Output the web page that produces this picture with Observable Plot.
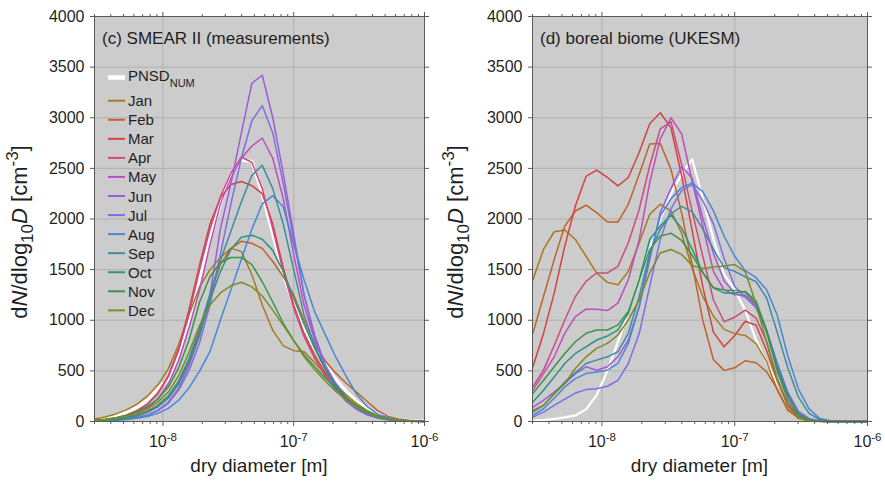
<!DOCTYPE html>
<html><head><meta charset="utf-8">
<script src="https://cdn.jsdelivr.net/npm/d3@7"></script>
<script src="https://cdn.jsdelivr.net/npm/@observablehq/plot@0.6"></script>
<style>
body{margin:0;background:#fff;}
#wrap{display:flex;width:885px;height:481px;}
svg{overflow:visible;}
</style></head><body><div id="wrap"></div>
<script>
const diameters = [3.02e-9, 3.63e-9, 4.37e-9, 5.25e-9, 6.31e-9, 7.59e-9, 9.12e-9, 1.10e-8, 1.32e-8, 1.58e-8, 1.91e-8, 2.29e-8, 2.75e-8, 3.31e-8, 3.98e-8, 4.79e-8, 5.75e-8, 6.92e-8, 8.32e-8, 1.00e-7, 1.20e-7, 1.45e-7, 1.74e-7, 2.09e-7, 2.51e-7, 3.02e-7, 3.63e-7, 4.37e-7, 5.25e-7, 6.31e-7, 7.59e-7, 9.12e-7, 1.00e-6];
const months = ["Jan","Feb","Mar","Apr","May","Jun","Jul","Aug","Sep","Oct","Nov","Dec"];
const monthColors = ["#a67a1e","#c2612a","#d2433f","#cf4a7c","#bf4dbf","#a05ad9","#7b6fe2","#4a86d6","#3e8ba2","#2a9480","#3a9448","#7b8c25"];

const smearPNSD = [15, 30, 55, 90, 140, 210, 320, 420, 680, 1000, 1420, 1800, 2150, 2430, 2580, 2570, 2250, 1850, 1450, 1150, 920, 720, 560, 420, 300, 200, 125, 75, 40, 20, 10, 4, 3];
const smearMonthly = [
  [25, 45, 75, 115, 170, 250, 360, 520, 760, 1050, 1330, 1500, 1620, 1710, 1680, 1450, 1150, 900, 750, 700, 690, 580, 470, 360, 265, 180, 110, 60, 30, 14, 6, 3, 2],
  [8, 15, 26, 42, 68, 105, 160, 250, 390, 600, 900, 1250, 1550, 1710, 1780, 1760, 1710, 1580, 1430, 1250, 1000, 760, 600, 480, 380, 290, 200, 110, 50, 25, 12, 5, 3],
  [12, 20, 36, 62, 105, 170, 280, 450, 720, 1100, 1550, 1950, 2210, 2340, 2370, 2330, 2250, 1950, 1520, 1150, 870, 650, 480, 340, 230, 150, 90, 50, 26, 12, 5, 2, 1],
  [12, 20, 35, 60, 100, 165, 270, 440, 700, 1050, 1500, 1900, 2220, 2450, 2610, 2560, 2300, 1900, 1480, 1120, 840, 620, 450, 320, 215, 140, 85, 48, 25, 12, 5, 2, 1],
  [9, 16, 28, 48, 80, 130, 220, 370, 600, 920, 1300, 1750, 2150, 2400, 2600, 2720, 2800, 2600, 2200, 1650, 1150, 800, 560, 380, 240, 145, 85, 45, 22, 10, 4, 2, 1],
  [5, 8, 15, 25, 40, 65, 110, 190, 330, 550, 850, 1250, 1900, 2350, 2850, 3340, 3420, 3000, 2450, 1850, 1250, 820, 520, 320, 200, 120, 66, 35, 17, 8, 3, 1, 1],
  [4, 7, 13, 22, 38, 62, 105, 180, 310, 500, 780, 1150, 1650, 2150, 2600, 2970, 3120, 2850, 2350, 1800, 1250, 850, 560, 360, 220, 130, 72, 38, 18, 8, 3, 1, 1],
  [4, 7, 12, 20, 32, 50, 80, 130, 210, 330, 500, 690, 1000, 1300, 1600, 1900, 2150, 2230, 2120, 1750, 1400, 1080, 860, 640, 450, 270, 150, 75, 38, 18, 8, 3, 2],
  [7, 12, 20, 35, 58, 95, 155, 250, 400, 620, 920, 1260, 1590, 1880, 2170, 2430, 2530, 2300, 1950, 1500, 1050, 740, 520, 350, 230, 140, 80, 42, 20, 9, 4, 2, 1],
  [6, 11, 20, 33, 55, 90, 145, 230, 370, 580, 860, 1200, 1480, 1700, 1820, 1840, 1800, 1690, 1480, 1220, 960, 720, 520, 360, 240, 150, 88, 48, 24, 11, 5, 2, 1],
  [12, 22, 38, 60, 95, 145, 220, 340, 530, 800, 1180, 1430, 1570, 1620, 1620, 1550, 1380, 1180, 970, 800, 660, 540, 430, 330, 240, 160, 100, 56, 30, 14, 6, 3, 1],
  [10, 18, 32, 52, 82, 125, 190, 290, 450, 680, 950, 1150, 1270, 1340, 1375, 1330, 1240, 1100, 950, 800, 640, 510, 400, 300, 215, 145, 90, 50, 26, 12, 5, 2, 1]
];

const ukesmPNSD = [8, 15, 25, 40, 60, 120, 260, 500, 790, 1080, 1400, 1700, 2000, 2250, 2440, 2590, 2200, 1800, 1450, 1300, 1100, 800, 580, 380, 200, 80, 25, 5, 1, 0, 0, 0, 0];
const ukesmMonthly = [
  [1400, 1699, 1874, 1891, 1798, 1632, 1467, 1374, 1351, 1483, 1765, 2046, 2145, 2080, 1860, 1510, 1235, 1040, 910, 868, 850, 770, 590, 310, 120, 30, 8, 2, 0, 0, 0, 0, 0],
  [870, 1235, 1600, 1930, 2079, 2136, 2063, 1970, 1970, 2145, 2443, 2741, 2745, 2490, 2060, 1550, 1000, 610, 505, 530, 600, 580, 490, 320, 110, 40, 10, 2, 0, 0, 0, 0, 0],
  [540, 870, 1268, 1732, 2129, 2420, 2483, 2410, 2328, 2410, 2659, 2940, 3049, 2900, 2430, 1880, 1330, 880, 738, 850, 990, 950, 700, 400, 165, 50, 12, 2, 0, 0, 0, 0, 0],
  [341, 507, 750, 1003, 1235, 1384, 1467, 1467, 1533, 1765, 2096, 2526, 2891, 2960, 2540, 2070, 1632, 1200, 985, 1030, 1100, 1020, 790, 420, 180, 50, 12, 2, 0, 0, 0, 0, 0],
  [308, 473, 639, 870, 1036, 1109, 1109, 1096, 1169, 1400, 1798, 2360, 2791, 3000, 2840, 2370, 1930, 1480, 1300, 1252, 1250, 1140, 900, 560, 260, 80, 20, 4, 0, 0, 0, 0, 0],
  [142, 209, 290, 374, 473, 540, 507, 540, 639, 805, 1136, 1599, 2063, 2300, 2520, 2400, 2010, 1660, 1390, 1268, 1230, 1150, 890, 540, 250, 80, 20, 4, 0, 0, 0, 0, 0],
  [43, 93, 159, 220, 281, 315, 324, 348, 407, 573, 871, 1334, 1798, 2100, 2280, 2340, 2180, 1950, 1610, 1334, 1230, 1120, 900, 580, 290, 100, 30, 8, 2, 0, 0, 0, 0],
  [60, 126, 230, 341, 424, 473, 490, 507, 573, 771, 1136, 1632, 2030, 2200, 2310, 2355, 2270, 2080, 1830, 1632, 1490, 1420, 1300, 1050, 650, 320, 125, 30, 8, 2, 0, 0, 0],
  [93, 159, 275, 391, 480, 573, 606, 639, 689, 871, 1235, 1665, 1897, 2050, 2125, 2070, 1900, 1700, 1520, 1483, 1430, 1380, 1220, 880, 530, 240, 80, 20, 4, 0, 0, 0, 0],
  [192, 308, 440, 573, 672, 738, 805, 844, 904, 1069, 1400, 1798, 1930, 2040, 1910, 1700, 1470, 1320, 1270, 1268, 1285, 1190, 900, 540, 270, 80, 18, 3, 0, 0, 0, 0, 0],
  [275, 407, 540, 672, 788, 871, 904, 904, 954, 1086, 1400, 1699, 1831, 1860, 1790, 1640, 1470, 1320, 1300, 1295, 1280, 1160, 880, 500, 215, 60, 12, 2, 0, 0, 0, 0, 0],
  [109, 159, 275, 374, 523, 639, 722, 771, 854, 1003, 1202, 1467, 1665, 1699, 1650, 1540, 1510, 1525, 1535, 1550, 1480, 1160, 780, 420, 150, 35, 8, 1, 0, 0, 0, 0, 0]
];

const majorTicks = [1e-8, 1e-7, 1e-6];
const majorTickLabels = ["10^-8", "10^-7", "10^-6"];
const minorTicks = [3e-9, 4e-9, 5e-9, 6e-9, 7e-9, 8e-9, 9e-9, 2e-8, 3e-8, 4e-8, 5e-8, 6e-8, 7e-8, 8e-8, 9e-8, 2e-7, 3e-7, 4e-7, 5e-7, 6e-7, 7e-7, 8e-7, 9e-7];
const yTicks = [0, 500, 1000, 1500, 2000, 2500, 3000, 3500, 4000];
const panelTitles = ["(c) SMEAR II (measurements)", "(d) boreal biome (UKESM)"];
const xLabel = "dry diameter [m]";
const legendMeanLabel = ["PNSD", "NUM"];

const FONT = "'Liberation Sans', Arial, Helvetica, sans-serif";
const TEXT = "#1f1f1f";

function makePanel({mean, monthly, width, marginLeft, marginRight, title, meanWidth, legend, ylabX}) {
  const rows = [];
  monthly.forEach((arr, m) => arr.forEach((v, i) => rows.push({d: diameters[i], v, month: months[m]})));
  const meanRows = mean.map((v, i) => ({d: diameters[i], v}));
  const svg = Plot.plot({
    width, height: 481,
    marginTop: 16, marginBottom: 60, marginLeft, marginRight,
    style: {fontFamily: FONT, fontSize: "16px", color: TEXT, background: "transparent", overflow: "visible"},
    x: {type: "log", domain: [3e-9, 1e-6]},
    y: {domain: [0, 4000]},
    color: {domain: months, range: monthColors},
    marks: [
      Plot.frame({fill: "#cccccc", stroke: null}),
      Plot.gridX(majorTicks, {stroke: "#b0b0b0", strokeOpacity: 1, strokeWidth: 1}),
      Plot.gridY(yTicks, {stroke: "#b0b0b0", strokeOpacity: 1, strokeWidth: 1}),
      Plot.lineY(meanRows, {x: "d", y: "v", stroke: "white", strokeWidth: meanWidth}),
      Plot.lineY(rows, {x: "d", y: "v", z: "month", stroke: "month", strokeWidth: 1.5}),
      Plot.frame({stroke: "#5a5a5a", strokeWidth: 1}),
      Plot.axisY(yTicks, {anchor: "left", tickSize: 4, tickPadding: 6, tickFormat: d => String(d), label: null, stroke: "#5a5a5a"}),
      Plot.axisY(yTicks, {anchor: "right", tickSize: 4, tickFormat: () => "", label: null, stroke: "#5a5a5a"}),
      Plot.axisX(majorTicks, {anchor: "bottom", tickSize: 5, tickPadding: 9, tickFormat: d => majorTickLabels[majorTicks.indexOf(d)], label: null, stroke: "#5a5a5a"}),
      Plot.axisX(minorTicks, {anchor: "bottom", tickSize: 3, tickFormat: () => "", label: null, stroke: "#5a5a5a"}),
      Plot.axisX(majorTicks, {anchor: "top", tickSize: 5, tickFormat: () => "", label: null, stroke: "#5a5a5a"}),
      Plot.axisX(minorTicks, {anchor: "top", tickSize: 3, tickFormat: () => "", label: null, stroke: "#5a5a5a"})
    ]
  });
  const s = d3.select(svg);
  // superscripts on decade labels
  s.selectAll("text").each(function() {
    const t = d3.select(this);
    const str = t.text();
    if (!str.includes("^")) return;
    const [b, e] = str.split("^");
    t.text(null);
    t.append("tspan").text(b);
    t.append("tspan").attr("dy", "-0.5em").attr("font-size", "0.72em").text(e);
  });
  const g = s.append("g").attr("font-family", FONT).attr("fill", TEXT).attr("text-anchor", "start");
  // title
  g.append("text").attr("x", marginLeft + 8).attr("y", 44).attr("font-size", 17).text(title);
  // x label
  g.append("text").attr("x", marginLeft + (width - marginLeft - marginRight) / 2).attr("y", 472)
    .attr("text-anchor", "middle").attr("font-size", 19).text(xLabel);
  // y label
  const yl = g.append("text").attr("transform", `translate(${ylabX},232) rotate(-90)`)
    .attr("text-anchor", "middle").attr("font-size", 22);
  yl.append("tspan").text("d");
  yl.append("tspan").attr("font-style", "italic").text("N");
  yl.append("tspan").text("/dlog");
  yl.append("tspan").attr("font-size", 17).attr("dy", 6).text("10");
  yl.append("tspan").attr("font-style", "italic").attr("dy", -6).text("D");
  yl.append("tspan").text(" [cm");
  yl.append("tspan").attr("font-size", 17).attr("dy", -9).text("-3");
  yl.append("tspan").attr("dy", 9).text("]");
  if (legend) {
    const lg = g.append("g").attr("font-size", 15);
    lg.append("line").attr("x1", 108).attr("x2", 125).attr("y1", 77.5).attr("y2", 77.5)
      .attr("stroke", "white").attr("stroke-width", 4.5);
    const lt = lg.append("text").attr("x", 128).attr("y", 81);
    lt.append("tspan").text(legendMeanLabel[0]);
    lt.append("tspan").attr("font-size", 11).attr("dy", 6).text(legendMeanLabel[1]);
    months.forEach((m, i) => {
      const y = 100.7 + 19.06 * i;
      lg.append("line").attr("x1", 108).attr("x2", 125).attr("y1", y).attr("y2", y)
        .attr("stroke", monthColors[i]).attr("stroke-width", 2);
      lg.append("text").attr("x", 128).attr("y", y + 5.5).text(m);
    });
  }
  return svg;
}

const wrap = document.getElementById("wrap");
wrap.appendChild(makePanel({mean: smearPNSD, monthly: smearMonthly, width: 442, marginLeft: 94, marginRight: 18,
  title: panelTitles[0], meanWidth: 3.2, legend: true, ylabX: 27}));
wrap.appendChild(makePanel({mean: ukesmPNSD, monthly: ukesmMonthly, width: 443, marginLeft: 90, marginRight: 18,
  title: panelTitles[1], meanWidth: 2.2, legend: false, ylabX: 21}));
</script>
</body></html>
